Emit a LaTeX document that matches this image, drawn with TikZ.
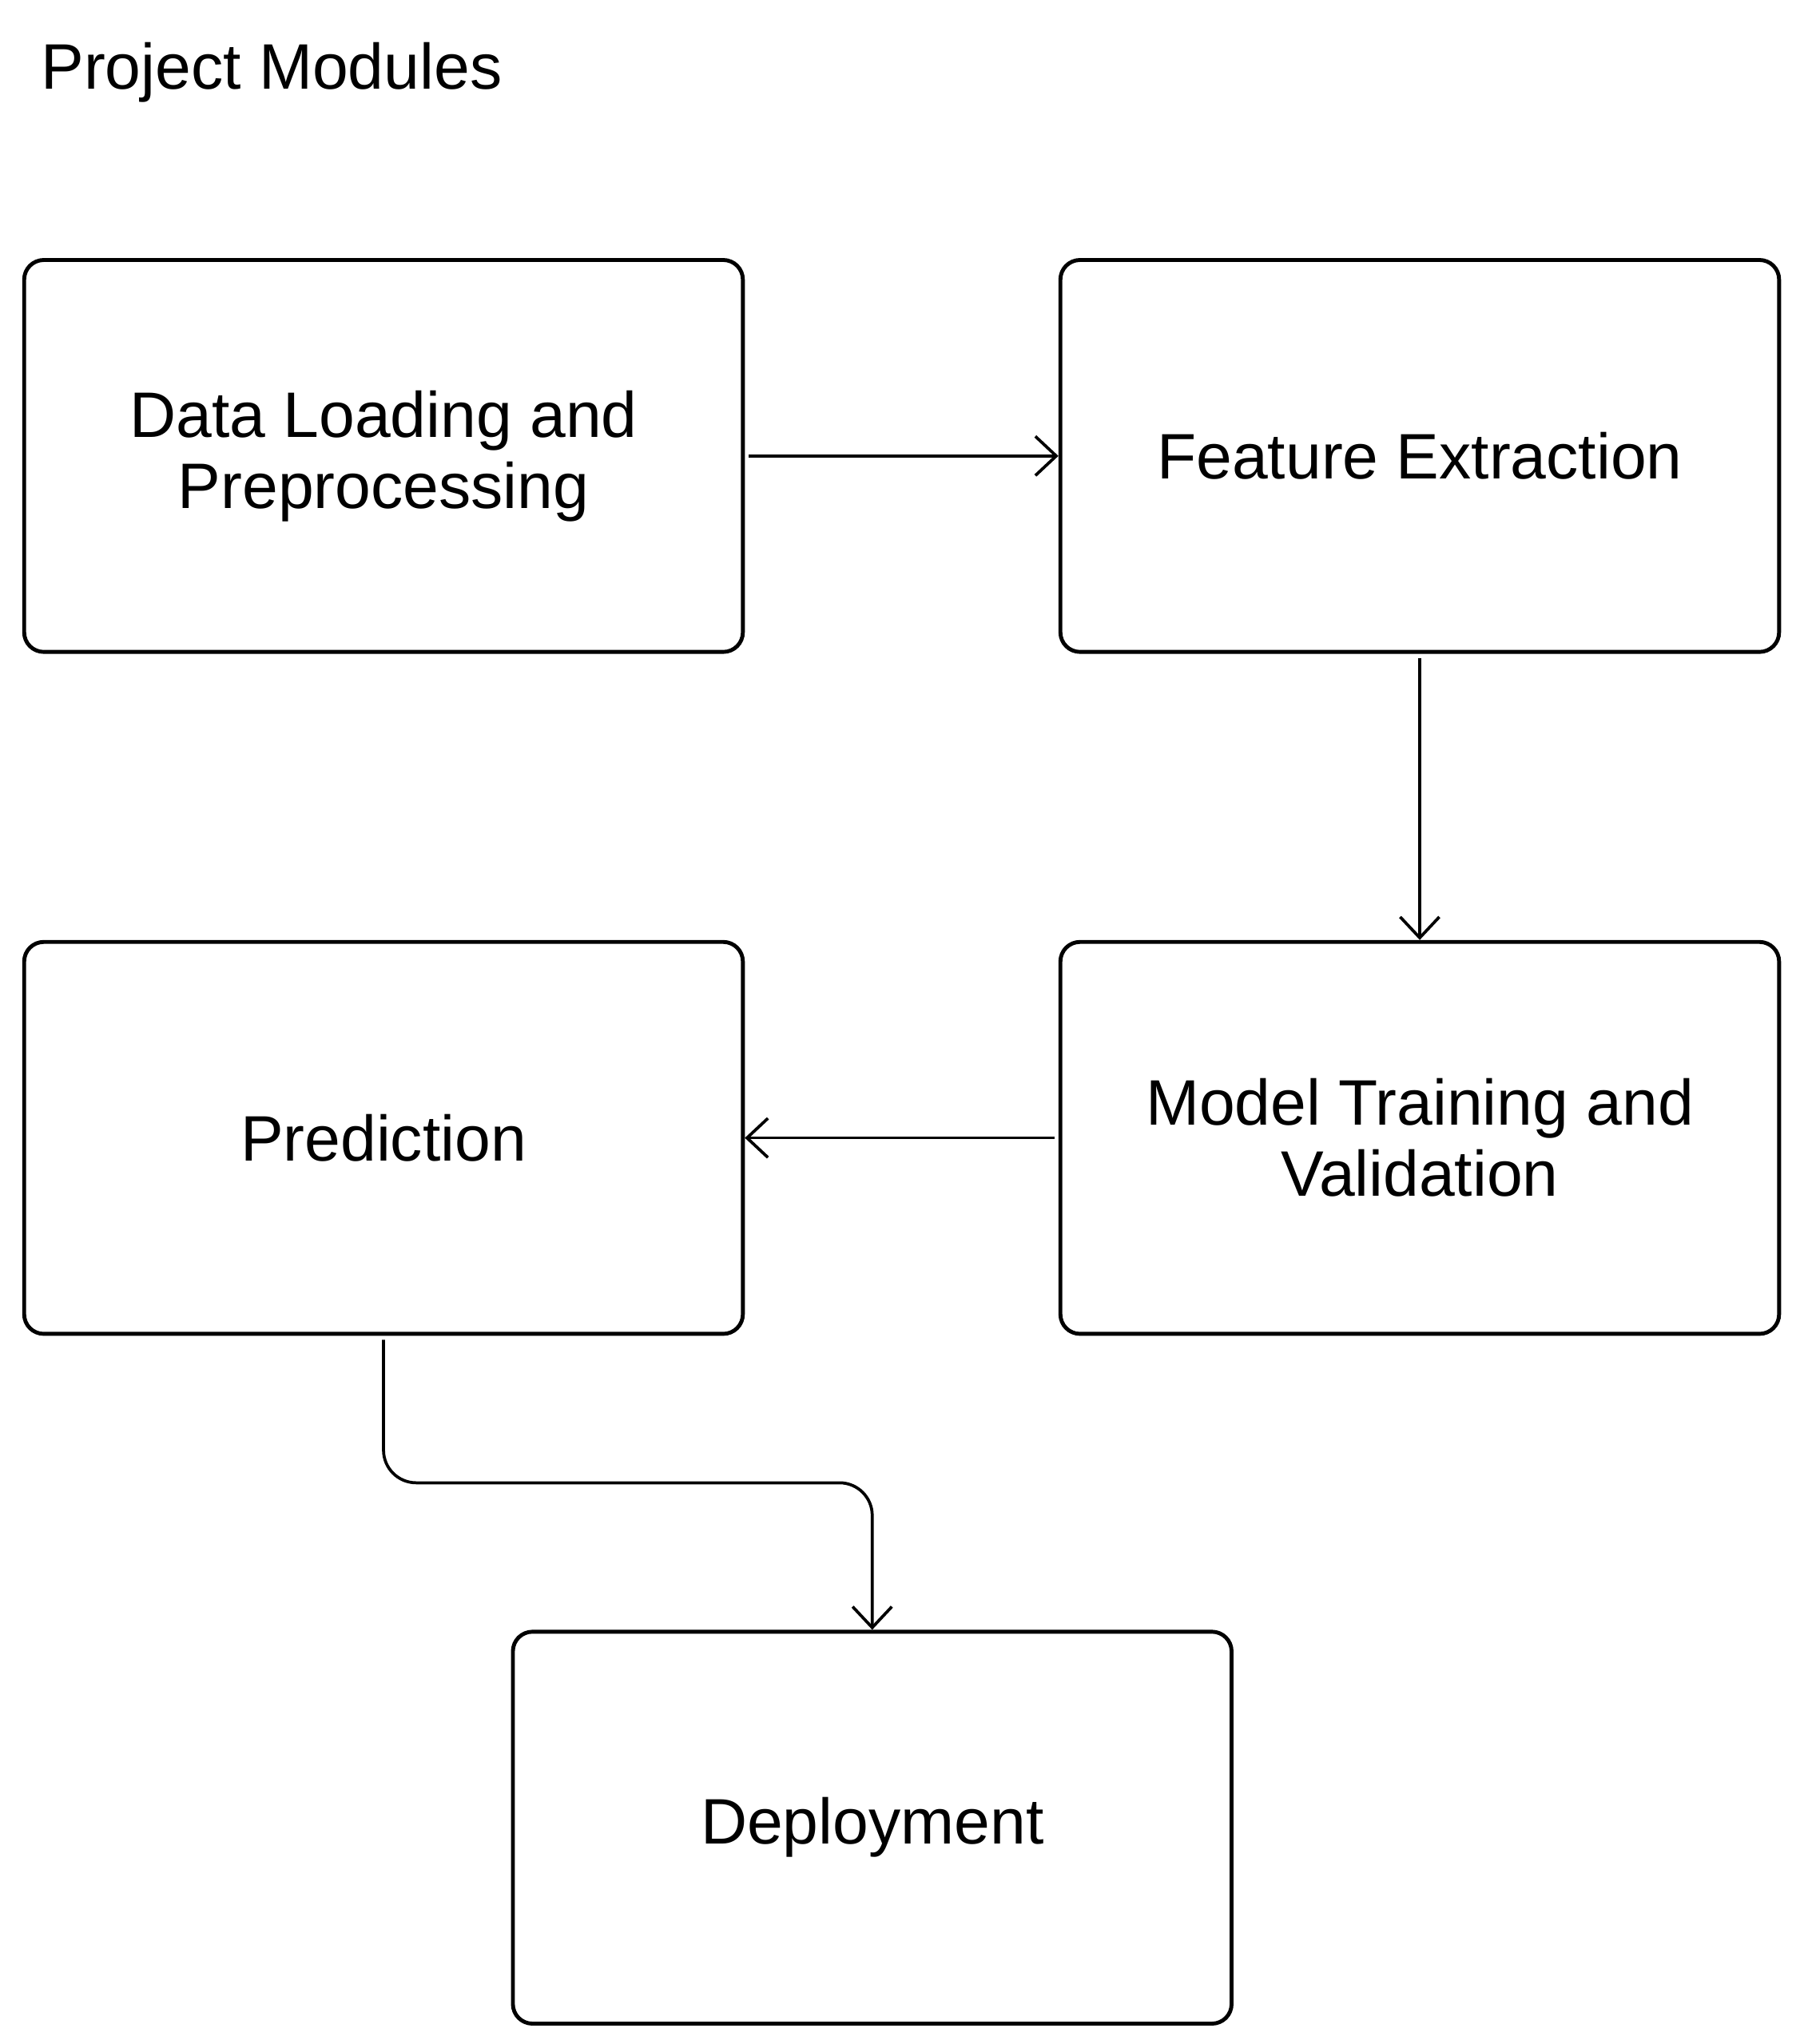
\documentclass[tikz,border=0pt]{standalone}
\usepackage{fontspec}
\setmainfont{Liberation Sans}
\usetikzlibrary{positioning,arrows.meta}

\begin{document}
\begin{tikzpicture}[
        module/.style={draw, line width=0.85pt, rounded corners=0.15cm, minimum width=5.5cm, minimum height=3.0cm, align=center, font=\fontsize{14}{15.5}\selectfont},
        flow/.style={line width=0.65pt, -{Straight Barb[length=0.16cm, width=0.3cm]}, shorten <=0.03cm}
    ]
        \useasboundingbox (0,0) rectangle (13.80,-15.646);

        \node[anchor=base west, font=\fontsize{14}{16}\selectfont] (title) at (0.19,-0.68) {Project Modules};

        \node[module] (DataLoading) at (2.935,-3.49) {Data Loading and\\Preprocessing};
        \node[module] (FeatureExtraction) at (10.865,-3.49) {Feature Extraction};
        \node[module] (ModelTraining) at (10.865,-8.71) {Model Training and\\Validation};
        \node[module] (Prediction) at (2.935,-8.71) {Prediction};
        \node[module] (Deployment) at (6.675,-13.99) {Deployment};

        \coordinate (bend) at (0,-11.35);

        \draw[flow] (DataLoading) -- (FeatureExtraction);
        \draw[flow] (FeatureExtraction) -- (ModelTraining);
        \draw[flow] (ModelTraining) -- (Prediction);
        \draw[flow, rounded corners=0.25cm] (Prediction.south) |- (bend -| Deployment.north) -- (Deployment.north);
    \end{tikzpicture}
\end{document}
